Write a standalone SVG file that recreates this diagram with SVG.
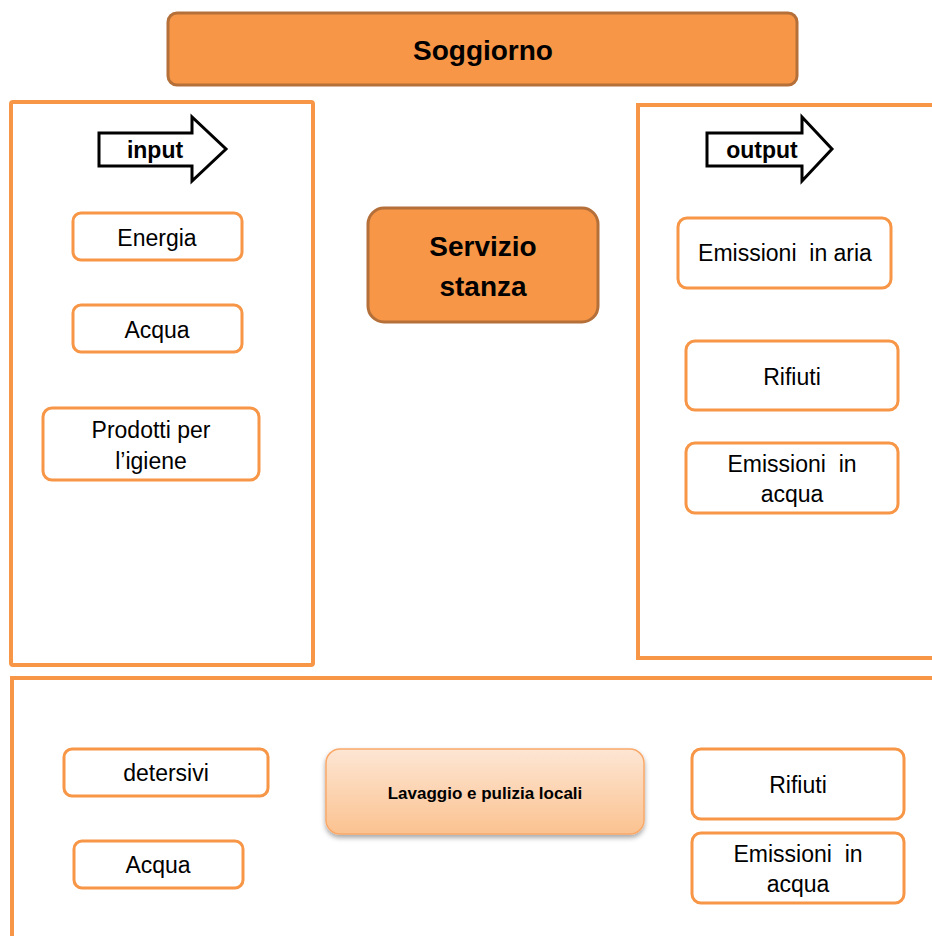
<svg xmlns="http://www.w3.org/2000/svg" width="932" height="936" viewBox="0 0 932 936">
  <style>
    .panel { fill: none; stroke: #F79646; stroke-width: 4; }
    .item { fill: #FFFFFF; stroke: #F79646; stroke-width: 3; }
    .head { fill: #F79646; stroke: #B5703A; stroke-width: 3; }
    .arrow { fill: #FFFFFF; stroke: #000000; stroke-width: 3; stroke-linejoin: miter; }
    text { font-family: "Liberation Sans", Arial, sans-serif; fill: #000000; text-anchor: middle; white-space: pre; }
    .lbl { font-size: 23px; }
    .big { font-size: 28px; font-weight: bold; }
    .tag { font-size: 23px; font-weight: bold; }
    .small { font-size: 17px; font-weight: bold; }
  </style>
  <defs>
    <linearGradient id="procFill" x1="0" y1="0" x2="0" y2="1">
      <stop offset="0" stop-color="#FDE6D4"/>
      <stop offset="1" stop-color="#FBC290"/>
    </linearGradient>
    <filter id="shadow" x="-10%" y="-20%" width="120%" height="150%">
      <feDropShadow dx="0" dy="3" stdDeviation="2.5" flood-color="#000000" flood-opacity="0.35"/>
    </filter>
  </defs>

  <!-- section frames -->
  <g id="frames">
    <rect class="panel" x="11" y="102" width="302" height="563" rx="2"/>
    <path class="panel" d="M 940 105 L 638 105 L 638 658 L 940 658"/>
    <path class="panel" d="M 940 678 L 12 678 L 12 945"/>
  </g>

  <g id="soggiorno">
    <rect class="head" x="168" y="13" width="629" height="72" rx="9"/>
    <text class="big" x="483" y="60">Soggiorno</text>
  </g>

  <g id="servizio-stanza">
    <rect class="head" x="368" y="208" width="230" height="114" rx="16"/>
    <text class="big" x="483" y="256">Servizio</text>
    <text class="big" x="483" y="296">stanza</text>
  </g>

  <g id="input">
    <polygon class="arrow" points="99,133 192,133 192,117 226,149 192,181 192,166 99,166"/>
    <text class="tag" x="155" y="158">input</text>
  </g>

  <g id="output">
    <polygon class="arrow" points="707,133 802,133 802,117 832,149 802,181 802,166 707,166"/>
    <text class="tag" x="762" y="158">output</text>
  </g>

  <g id="energia">
    <rect class="item" x="73" y="213" width="169" height="47" rx="8"/>
    <text class="lbl" x="157" y="246">Energia</text>
  </g>

  <g id="acqua-in">
    <rect class="item" x="73" y="305" width="169" height="47" rx="8"/>
    <text class="lbl" x="157" y="338">Acqua</text>
  </g>

  <g id="prodotti-igiene">
    <rect class="item" x="43" y="408" width="216" height="72" rx="9"/>
    <text class="lbl" x="151" y="438">Prodotti per</text>
    <text class="lbl" x="151" y="469">l’igiene</text>
  </g>

  <g id="emissioni-aria">
    <rect class="item" x="678" y="218" width="213" height="70" rx="9"/>
    <text class="lbl" x="785" y="261">Emissioni  in aria</text>
  </g>

  <g id="rifiuti">
    <rect class="item" x="686" y="341" width="212" height="69" rx="9"/>
    <text class="lbl" x="792" y="385">Rifiuti</text>
  </g>

  <g id="emissioni-acqua">
    <rect class="item" x="686" y="443" width="212" height="70" rx="9"/>
    <text class="lbl" x="792" y="472">Emissioni  in</text>
    <text class="lbl" x="792" y="502">acqua</text>
  </g>

  <g id="detersivi">
    <rect class="item" x="64" y="749" width="204" height="47" rx="8"/>
    <text class="lbl" x="166" y="781">detersivi</text>
  </g>

  <g id="acqua-pulizia">
    <rect class="item" x="74" y="841" width="169" height="47" rx="8"/>
    <text class="lbl" x="158" y="873">Acqua</text>
  </g>

  <g id="lavaggio-pulizia">
    <rect x="326" y="749" width="318" height="85" rx="14" fill="url(#procFill)" stroke="#F9A96A" stroke-width="1.5" filter="url(#shadow)"/>
    <text class="small" x="485" y="799">Lavaggio e pulizia locali</text>
  </g>

  <g id="rifiuti-pulizia">
    <rect class="item" x="692" y="749" width="212" height="70" rx="9"/>
    <text class="lbl" x="798" y="793">Rifiuti</text>
  </g>

  <g id="emissioni-acqua-pulizia">
    <rect class="item" x="692" y="833" width="212" height="70" rx="9"/>
    <text class="lbl" x="798" y="862">Emissioni  in</text>
    <text class="lbl" x="798" y="892">acqua</text>
  </g>

  <!-- no connectors are drawn between the items -->
  <g id="connectors"/>
</svg>
